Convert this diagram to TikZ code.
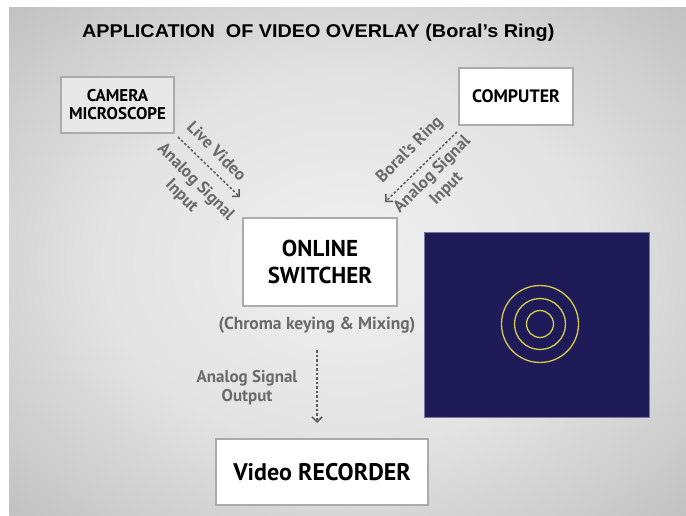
\documentclass[tikz,border=0pt]{standalone}
\usepackage{fontspec}
\setmainfont{PT Sans}
\newfontfamily\titlefont[FakeStretch=1.07]{Liberation Sans}
\usetikzlibrary{arrows.meta,positioning}
\definecolor{panelblue}{HTML}{1E1B58}
\definecolor{ringyellow}{HTML}{D6CC4E}
\definecolor{labelgray}{HTML}{6A6A6A}
\definecolor{edgegray}{HTML}{ABABAB}
\pgfdeclareradialshading{backdrop}{\pgfpoint{0bp}{0bp}}{color(0bp)=(black!6); color(18bp)=(black!11); color(50bp)=(black!35); color(71bp)=(black!42)}

\begin{document}
\begin{tikzpicture}[x=1pt,y=-1pt,
    box/.style={draw=edgegray, line width=1.2pt, fill=white, align=center, inner sep=0pt},
    tag/.style={text=labelgray, font=\bfseries\fontsize{17}{20}\selectfont, align=center},
    flow/.style={dash pattern=on 2.5pt off 2pt, line width=1.5pt, draw=labelgray!85!black,
      -{Straight Barb[length=5pt,width=10pt,line width=1.5pt]}}]
  \useasboundingbox (0,0) rectangle (686,516);
  \shade[shading=backdrop] (9,8) rectangle (686,516);

  % title
  \node[anchor=base west, inner sep=0pt] (title) at (82,38)
    {\titlefont\bfseries\fontsize{18.5}{21}\selectfont APPLICATION\ \ OF VIDEO OVERLAY (Boral’s Ring)};

  % boxes
  \node[box, fill=black!9, minimum width=113pt, minimum height=56pt,
    font=\bfseries\fontsize{17}{18}\selectfont] (cam) at (117.5,105) {CAMERA\\MICROSCOPE};
  \node[box, minimum width=114pt, minimum height=57pt,
    font=\bfseries\fontsize{18}{20}\selectfont] (comp) at (516,96.5) {COMPUTER};
  \node[box, minimum width=154pt, minimum height=88pt,
    font=\bfseries\fontsize{23}{27}\selectfont] (sw) at (320,262) {ONLINE\\SWITCHER};
  \node[box, minimum width=212pt, minimum height=66pt,
    font=\bfseries\fontsize{24}{27}\selectfont] (rec) at (322,472) {Video RECORDER};

  % overlay screen
  \node[draw=panelblue!60, fill=panelblue, minimum width=225pt, minimum height=185pt,
    inner sep=0pt] (screen) at (536.5,324.5) {};
  \foreach \r in {13.5,25.5,38.5}
    \draw[ringyellow, line width=1.3pt] (540,324) circle (\r);

  % labels
  \node[tag, font=\bfseries\fontsize{17.5}{20}\selectfont] (chroma) at (317,325) {(Chroma keying \& Mixing)};
  \node[tag] (live) at (217,151) [rotate=-45] {Live Video};
  \node[tag] (inleft) at (188.5,189) [rotate=-45] {Analog Signal\\Input};
  \node[tag] (ring) at (410,150) [rotate=45] {Boral’s Ring};
  \node[tag] (inright) at (439.5,182) [rotate=45] {Analog Signal\\Input};
  \node[tag, font=\bfseries\fontsize{17}{19}\selectfont] (out) at (247,388) {Analog Signal\\Output};

  % signal paths
  \coordinate (camout) at (178,137);
  \coordinate (swinl) at (240,197);
  \coordinate (compout) at (457,132);
  \coordinate (swinr) at (385,202);
  \coordinate (swout) at (317,350);
  \coordinate (recin) at (317,423);
  \draw[flow] (camout) -- (swinl);
  \draw[flow] (compout) -- (swinr);
  \draw[flow] (swout) -- (recin);
\end{tikzpicture}
\end{document}
